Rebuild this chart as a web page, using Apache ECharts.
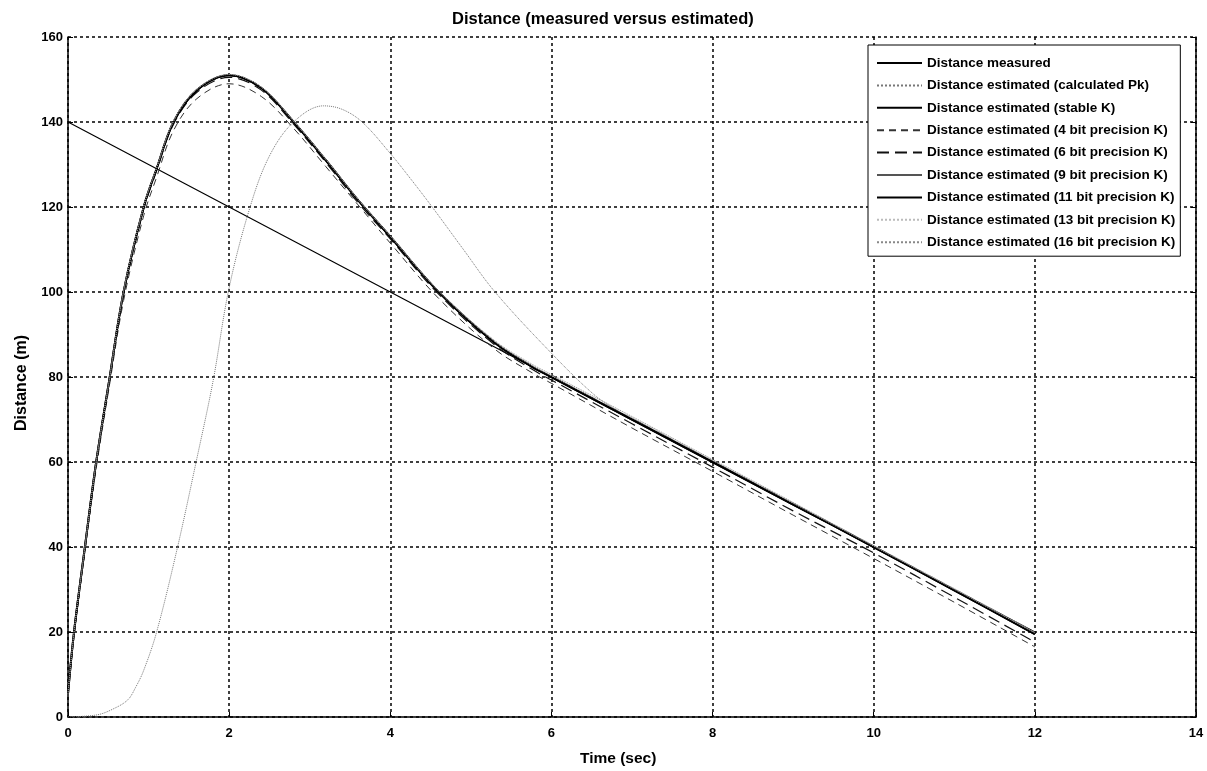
<!DOCTYPE html>
<html>
<head>
<meta charset="utf-8">
<title>Distance (measured versus estimated)</title>
<script src="https://cdn.jsdelivr.net/npm/echarts@6/dist/echarts.min.js"></script>
<style>
  html, body { margin: 0; padding: 0; background: #fff; }
  #chart { width: 1207px; height: 771px; }
</style>
</head>
<body>
<div id="chart"></div>
<script>
// time axis samples (sec)
const tMeasured = [0, 1, 2, 3, 4, 5, 6, 7, 8, 9, 10, 11, 12]
const tFast = [0, 0.075, 0.21, 0.35, 0.51, 0.69, 0.94, 1.1, 1.31, 1.6, 2.0, 2.4, 2.8, 3.2, 3.6, 4.0, 4.6, 5.3, 5.76, 6, 7, 8, 9, 10, 11, 12]
const tPk = [0, 0.36, 0.55, 0.74, 0.84, 0.94, 1.1, 1.36, 1.59, 1.8, 2.0, 2.26, 2.5, 2.8, 3.17, 3.4, 3.65, 4.0, 4.27, 4.52, 4.9, 5.3, 6.0, 6.52, 6.8, 7.2, 8, 9, 10, 11, 12]

// distances (m)
const measured = [140, 130, 120, 110, 100, 90, 80, 70, 60, 50, 40, 30, 20]
const calcPk = [0, 0.5, 1.8, 4, 7, 11, 20, 40, 60, 79, 101, 120, 132, 140, 143.8, 143, 140, 132.6, 126.2, 120, 110.2, 100, 85.6, 76, 72.4, 68.4, 60.3, 50.3, 40.3, 30.2, 20]
const stableK = [5.5, 20, 40, 60, 79, 100, 120, 129, 140, 147.5, 151, 148, 140, 131, 121.6, 113, 100, 88, 82.4, 80, 70, 60, 50, 40, 29.8, 19.5]
const bit4 = [5.5, 19, 39, 58.5, 77.5, 98, 118, 127, 138, 145.5, 149, 146, 138.5, 129.5, 120.5, 111.5, 98.5, 86.5, 81, 78.5, 68, 57.8, 47.5, 37.3, 27, 16.5]
const bit6 = [5.5, 19.5, 39.5, 59.5, 78.5, 99.5, 119.5, 128.5, 139.5, 147, 150.5, 147.5, 139.5, 130.5, 121, 112.5, 99.5, 87.5, 81.8, 79.3, 69, 58.8, 48.5, 38.6, 28.2, 17.6]
const bit9 = [5.5, 20, 40, 60, 79, 100, 120, 129, 140, 147.5, 151, 148, 140, 131, 121.6, 113, 100, 88.2, 82.6, 80.2, 70.2, 60.2, 50.2, 40.1, 30, 19.8]
const bit11 = [5.5, 20, 40, 60, 79, 100, 120, 129, 140, 147.5, 151, 148, 140, 131, 121.6, 113, 100, 88, 82.4, 80, 70, 60, 50, 40, 29.8, 19.5]
const bit13 = [5.5, 20, 40, 60, 79, 100.2, 120.2, 129.2, 140.2, 147.7, 151.2, 148.2, 140.2, 131.2, 121.8, 113.2, 100.2, 88.3, 82.7, 80.3, 70.4, 60.4, 50.3, 40.2, 30.1, 19.8]
const bit16 = [5.5, 20, 40, 60, 79, 100.2, 120.2, 129.2, 140.2, 147.7, 151.2, 148.2, 140.2, 131.2, 121.8, 113.2, 100.3, 88.5, 83, 80.6, 70.7, 60.6, 50.5, 40.3, 30.1, 19.9]

const FONT = "'Liberation Sans', Arial, sans-serif"

function pairs(ts, vs) {
  return ts.map((t, i) => [t, vs[i]])
}

function curve(name, ts, vs, style, smooth) {
  return {
    name: name,
    type: 'line',
    data: pairs(ts, vs),
    symbol: 'none',
    smooth: smooth,
    silent: true,
    lineStyle: style,
    itemStyle: { color: style.color }
  }
}

const gridLine = { show: true, lineStyle: { color: '#000', width: 1.5, type: [3, 3] } }
const axisLabelStyle = { fontFamily: FONT, fontSize: 13, fontWeight: 'bold', color: '#000' }
const nameStyle = { fontFamily: FONT, fontSize: 16, fontWeight: 'bold', fill: '#000' }

const chart = echarts.init(document.getElementById('chart'))
chart.setOption({
  animation: false,
  backgroundColor: '#fff',
  title: {
    text: 'Distance (measured versus estimated)',
    left: 447,
    top: 6,
    textStyle: { fontFamily: FONT, fontSize: 16.5, fontWeight: 'bold', color: '#000' }
  },
  graphic: [
    { type: 'text', left: 617 - 37, top: 751, style: Object.assign({ text: 'Time (sec)' }, nameStyle, { fontSize: 15.5 }) },
    { type: 'text', x: 14, y: 431, rotation: Math.PI / 2, style: Object.assign({ text: 'Distance (m)' }, nameStyle) }
  ],
  grid: { left: 68, right: 11, top: 37, bottom: 54 },
  legend: {
    orient: 'vertical',
    left: 868,
    top: 45,
    padding: [11, 5, 7, 8],
    itemWidth: 45,
    itemHeight: 14,
    itemGap: 8.4,
    backgroundColor: '#fff',
    borderColor: '#000',
    borderWidth: 1,
    borderRadius: 0,
    itemStyle: { opacity: 0 },
    textStyle: { fontFamily: FONT, fontSize: 13.5, fontWeight: 'bold', color: '#000' }
  },
  xAxis: {
    type: 'value',
    min: 0,
    max: 14,
    interval: 2,
    axisLine: { show: true, onZero: false, lineStyle: { color: '#000', width: 1.5 } },
    axisTick: { show: true, inside: true, length: 5, lineStyle: { color: '#000' } },
    axisLabel: Object.assign({ margin: 10 }, axisLabelStyle),
    splitLine: gridLine
  },
  yAxis: [{
    type: 'value',
    min: 0,
    max: 160,
    interval: 20,
    axisLine: { show: true, onZero: false, lineStyle: { color: '#000', width: 1.5 } },
    axisTick: { show: true, inside: true, length: 5, lineStyle: { color: '#000' } },
    axisLabel: Object.assign({ margin: 5 }, axisLabelStyle),
    splitLine: gridLine
  }, {
    type: 'value',
    min: 0,
    max: 160,
    interval: 20,
    position: 'right',
    axisLine: { show: true, onZero: false, lineStyle: { color: '#000', width: 1.5 } },
    axisTick: { show: true, inside: true, length: 5, lineStyle: { color: '#000' } },
    axisLabel: { show: false },
    splitLine: { show: false }
  }],
  series: [
    curve('Distance measured', tMeasured, measured, { color: '#000', width: 1.2, type: 'solid' }, false),
    curve('Distance estimated (calculated Pk)', tPk, calcPk, { color: '#777', width: 1, type: 'dotted' }, 0.35),
    curve('Distance estimated (stable K)', tFast, stableK, { color: '#000', width: 2, type: 'solid' }, 0.35),
    curve('Distance estimated (4 bit precision K)', tFast, bit4, { color: '#333', width: 1, type: [7, 5] }, 0.35),
    curve('Distance estimated (6 bit precision K)', tFast, bit6, { color: '#111', width: 1.2, type: [12, 6] }, 0.35),
    curve('Distance estimated (9 bit precision K)', tFast, bit9, { color: '#555', width: 1, type: 'solid' }, 0.35),
    curve('Distance estimated (11 bit precision K)', tFast, bit11, { color: '#000', width: 2, type: 'solid' }, 0.35),
    curve('Distance estimated (13 bit precision K)', tFast, bit13, { color: '#bbb', width: 1, type: 'dotted' }, 0.35),
    curve('Distance estimated (16 bit precision K)', tFast, bit16, { color: '#888', width: 1, type: 'dotted' }, 0.35)
  ]
})
</script>
</body>
</html>
